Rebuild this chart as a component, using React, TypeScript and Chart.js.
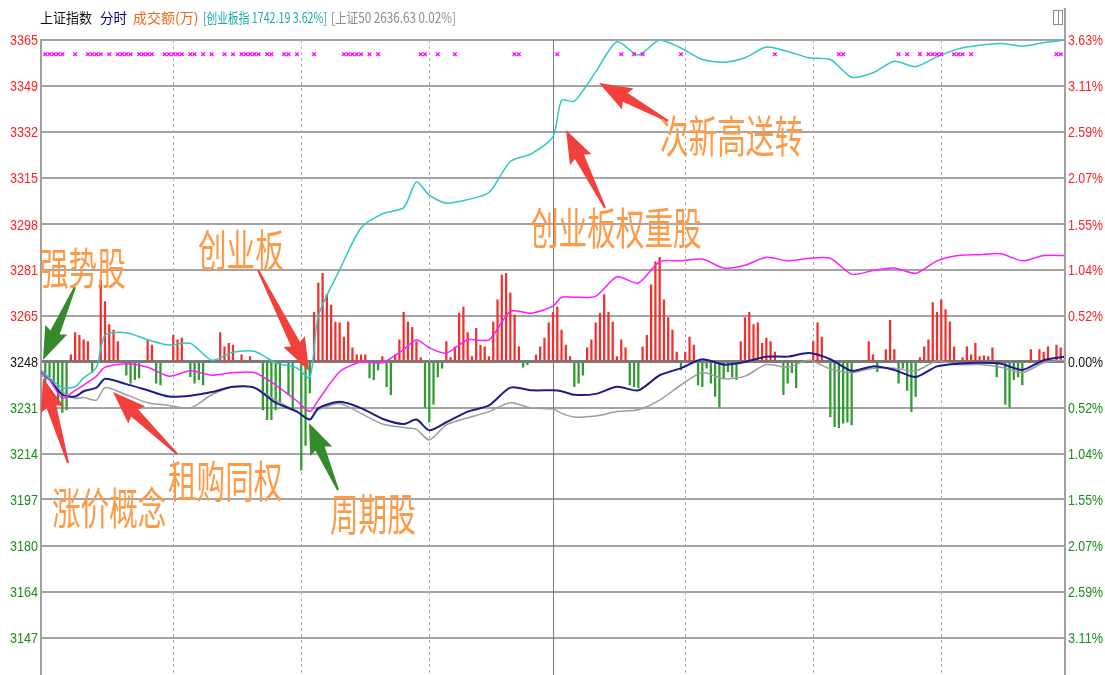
import React, { useEffect, useRef } from 'react';
import { Chart, registerables } from 'chart.js';

Chart.register(...registerables);

// ---- time axis (minutes from open, 0..240) ----
const TIMES = [0, 2, 5, 8, 10, 13, 15, 20, 25, 30, 35, 40, 45, 50, 55, 60, 63, 65, 70, 75, 80, 85, 88, 91, 95, 100, 105, 110, 115, 120, 122, 125, 130, 135, 140, 145, 150, 155, 160, 165, 170, 175, 180, 185, 190, 195, 200, 205, 210, 215, 220, 225, 230, 235, 240];

// ---- line series (percent change) ----
const CYAN_GEM = [-0.09, -0.18, -0.29, -0.28, -0.18, -0.06, 0.30, 0.33, 0.25, 0.19, 0.21, 0.02, 0.11, 0.12, -0.01, -0.07, -0.18, 0.52, 1.04, 1.51, 1.67, 1.74, 2.03, 1.88, 1.79, 1.83, 1.91, 2.26, 2.35, 2.54, 2.95, 2.94, 3.27, 3.61, 3.46, 3.63, 3.54, 3.41, 3.38, 3.43, 3.55, 3.50, 3.43, 3.41, 3.21, 3.26, 3.39, 3.33, 3.44, 3.53, 3.57, 3.59, 3.56, 3.60, 3.63];
const MAGENTA_LINE = [-0.11, -0.20, -0.41, -0.32, -0.26, -0.16, -0.06, -0.02, -0.06, -0.16, -0.10, -0.15, -0.12, -0.12, -0.26, -0.44, -0.56, -0.43, -0.11, 0.00, -0.01, 0.14, 0.25, 0.16, 0.10, 0.25, 0.25, 0.57, 0.55, 0.63, 0.73, 0.73, 0.74, 0.96, 0.89, 1.13, 1.14, 1.16, 1.06, 1.09, 1.18, 1.14, 1.17, 1.17, 0.99, 1.03, 1.06, 1.00, 1.14, 1.20, 1.21, 1.22, 1.14, 1.20, 1.20];
const NAVY_SH = [-0.11, -0.20, -0.37, -0.39, -0.33, -0.29, -0.19, -0.25, -0.32, -0.39, -0.38, -0.34, -0.28, -0.29, -0.46, -0.56, -0.65, -0.52, -0.45, -0.52, -0.64, -0.70, -0.65, -0.77, -0.68, -0.56, -0.49, -0.29, -0.32, -0.32, -0.33, -0.37, -0.36, -0.28, -0.32, -0.15, -0.07, 0.03, -0.03, 0.00, 0.06, 0.06, 0.10, 0.03, -0.10, -0.05, -0.09, -0.17, -0.05, -0.02, -0.01, -0.02, -0.09, 0.02, 0.06];
const GRAY_SZ50 = [-0.15, -0.20, -0.34, -0.41, -0.40, -0.43, -0.29, -0.37, -0.46, -0.49, -0.52, -0.37, -0.28, -0.29, -0.43, -0.56, -0.64, -0.54, -0.47, -0.58, -0.70, -0.74, -0.76, -0.88, -0.71, -0.63, -0.56, -0.46, -0.52, -0.53, -0.58, -0.62, -0.61, -0.56, -0.54, -0.43, -0.26, -0.12, -0.19, -0.16, -0.03, -0.06, 0.02, -0.08, -0.12, -0.07, -0.07, -0.10, 0.01, -0.03, -0.03, -0.06, -0.12, -0.01, 0.02];

// ---- up / down bars ----
const RED_MIN = [7, 8, 9, 10, 11, 14, 15, 16, 17, 18, 25, 26, 31, 32, 33, 42, 43, 44, 45, 47, 49, 64, 65, 66, 67, 68, 69, 70, 71, 72, 73, 74, 75, 76, 80, 83, 84, 85, 86, 87, 88, 89, 95, 96, 97, 98, 99, 100, 101, 102, 103, 104, 105, 106, 107, 108, 109, 110, 111, 112, 116, 117, 118, 119, 120, 121, 122, 123, 124, 128, 129, 130, 131, 132, 133, 134, 135, 136, 137, 141, 142, 143, 144, 145, 146, 147, 148, 149, 151, 152, 153, 164, 165, 166, 167, 168, 169, 170, 171, 172, 181, 182, 183, 194, 195, 198, 199, 200, 206, 207, 208, 209, 210, 211, 212, 213, 214, 216, 217, 218, 219, 220, 221, 222, 223, 232, 234, 235, 236, 238, 239, 240];
const RED_VAL = [0.08, 0.33, 0.30, 0.25, 0.23, 0.92, 0.68, 0.42, 0.36, 0.23, 0.25, 0.19, 0.30, 0.25, 0.27, 0.33, 0.17, 0.21, 0.19, 0.08, 0.06, 0.56, 0.89, 1.00, 0.76, 0.64, 0.45, 0.44, 0.28, 0.45, 0.16, 0.08, 0.08, 0.08, 0.06, 0.08, 0.25, 0.56, 0.45, 0.39, 0.23, 0.05, 0.23, 0.05, 0.17, 0.55, 0.62, 0.33, 0.06, 0.38, 0.19, 0.17, 0.06, 0.45, 0.70, 0.98, 1.00, 0.78, 0.53, 0.17, 0.08, 0.17, 0.27, 0.44, 0.56, 0.62, 0.36, 0.19, 0.06, 0.16, 0.25, 0.44, 0.55, 0.76, 0.56, 0.45, 0.06, 0.25, 0.16, 0.17, 0.30, 0.87, 1.13, 1.18, 0.70, 0.50, 0.36, 0.11, 0.11, 0.28, 0.19, 0.23, 0.50, 0.56, 0.42, 0.44, 0.21, 0.27, 0.23, 0.11, 0.23, 0.44, 0.28, 0.23, 0.08, 0.14, 0.47, 0.14, 0.05, 0.17, 0.25, 0.67, 0.56, 0.70, 0.59, 0.45, 0.17, 0.05, 0.17, 0.08, 0.21, 0.06, 0.07, 0.06, 0.16, 0.14, 0.14, 0.11, 0.17, 0.19, 0.16, 0.21];
const GREEN_MIN = [1, 2, 3, 4, 5, 6, 12, 20, 21, 22, 23, 27, 28, 35, 36, 37, 38, 52, 53, 54, 55, 56, 58, 59, 61, 62, 63, 77, 78, 79, 81, 82, 90, 91, 92, 93, 94, 113, 114, 125, 126, 127, 138, 139, 140, 150, 154, 155, 156, 157, 158, 159, 160, 161, 162, 163, 174, 175, 176, 177, 185, 186, 187, 188, 189, 190, 196, 201, 202, 203, 204, 205, 224, 226, 227, 228, 229, 230];
const GREEN_VAL = [-0.24, -0.17, -0.24, -0.48, -0.57, -0.54, -0.12, -0.15, -0.24, -0.20, -0.18, -0.24, -0.26, -0.17, -0.24, -0.20, -0.26, -0.54, -0.65, -0.65, -0.54, -0.45, -0.37, -0.54, -1.22, -0.94, -0.35, -0.18, -0.20, -0.09, -0.28, -0.37, -0.51, -0.68, -0.48, -0.17, -0.07, -0.06, -0.03, -0.28, -0.24, -0.15, -0.26, -0.28, -0.29, -0.09, -0.26, -0.28, -0.07, -0.24, -0.39, -0.51, -0.18, -0.11, -0.17, -0.20, -0.37, -0.24, -0.12, -0.29, -0.62, -0.73, -0.74, -0.69, -0.68, -0.71, -0.11, -0.24, -0.07, -0.32, -0.56, -0.39, -0.17, -0.48, -0.51, -0.20, -0.17, -0.26];

// ---- magenta "x" signal markers along the top ----
const MARK_MIN = [1, 2, 3, 4, 5, 8, 11, 12, 13, 14, 16, 18, 19, 20, 21, 23, 24, 25, 26, 29, 30, 31, 32, 33, 35, 36, 38, 40, 43, 45, 47, 48, 49, 50, 51, 53, 54, 57, 58, 60, 64, 71, 72, 73, 74, 75, 77, 79, 89, 90, 93, 97, 111, 112, 121, 136, 139, 141, 150, 172, 187, 188, 201, 203, 206, 208, 209, 210, 211, 214, 215, 216, 218, 238, 239];
const MARK_LEVEL = 3.47;

// ---- axis ticks ----
const PCT_TICKS = [3.63, 3.11, 2.59, 2.07, 1.55, 1.04, 0.52, 0, -0.52, -1.04, -1.55, -2.07, -2.59, -3.11];
const LEFT_LABELS = ['3365', '3349', '3332', '3315', '3298', '3281', '3265', '3248', '3231', '3214', '3197', '3180', '3164', '3147'];
const RIGHT_LABELS = ['3.63%', '3.11%', '2.59%', '2.07%', '1.55%', '1.04%', '0.52%', '0.00%', '0.52%', '1.04%', '1.55%', '2.07%', '2.59%', '3.11%'];
const VGRID_MIN = [31, 61, 91, 120, 151, 181, 211];
const MIDDAY_MIN = 120;
const Y_MIN = -3.47;
const Y_MAX = 3.63;

// ---- texts ----
const HEADER_TEXTS = ['上证指数', '分时', '成交额(万)', '[创业板指 1742.19 3.62%]', '[上证50 2636.63 0.02%]'];
const NOTE_TEXTS = ['强势股', '创业板', '涨价概念', '租购同权', '周期股', '创业板权重股', '次新高送转'];

const RED = '#f0302c';
const GREEN = '#2f9a2f';
const ARROW_RED = '#f2403c';
const ARROW_GREEN = '#358a2c';
const NOTE_COLOR = '#fd9a48';

function pts(xs: number[], ys: number[]) {
  return xs.map((x, i) => ({ x, y: ys[i] }));
}

function drawArrow(ctx: CanvasRenderingContext2D, x0: number, y0: number, x1: number, y1: number, color: string) {
  const dx = x1 - x0, dy = y1 - y0;
  const len = Math.hypot(dx, dy);
  const ux = dx / len, uy = dy / len;
  const nx = -uy, ny = ux;
  const hl = Math.min(30, len * 0.38), hw = 12, sw = 5, tw = 1;
  const bx = x1 - ux * hl, by = y1 - uy * hl;
  ctx.beginPath();
  ctx.moveTo(x0 + nx * tw, y0 + ny * tw);
  ctx.lineTo(bx + nx * sw, by + ny * sw);
  ctx.lineTo(bx + nx * hw - ux * 3, by + ny * hw - uy * 3);
  ctx.lineTo(x1, y1);
  ctx.lineTo(bx - nx * hw - ux * 3, by - ny * hw - uy * 3);
  ctx.lineTo(bx - nx * sw, by - ny * sw);
  ctx.lineTo(x0 - nx * tw, y0 - ny * tw);
  ctx.closePath();
  ctx.fillStyle = color;
  ctx.fill();
}

const decorPlugin = {
  id: 'decor',
  beforeDatasetsDraw(chart: any) {
    const { ctx, chartArea: a, scales } = chart;
    const xs = scales.x;
    ctx.save();
    VGRID_MIN.forEach((m) => {
      const px = Math.round(xs.getPixelForValue(m)) + 0.5;
      ctx.beginPath();
      if (m === MIDDAY_MIN) {
        ctx.setLineDash([]);
        ctx.strokeStyle = '#7c7c7c';
      } else {
        ctx.setLineDash([3, 3]);
        ctx.strokeStyle = '#b0b0b0';
      }
      ctx.lineWidth = 1;
      ctx.moveTo(px, a.top);
      ctx.lineTo(px, 675);
      ctx.stroke();
    });
    ctx.restore();
  },
  afterDatasetsDraw(chart: any) {
    const { ctx, chartArea: a, scales } = chart;
    const ys = scales.y;
    ctx.save();
    // tick labels on both sides
    ctx.font = '15px "Liberation Sans", Arial, sans-serif';
    ctx.textBaseline = 'middle';
    ys.ticks.forEach((t: any, i: number) => {
      const py = ys.getPixelForValue(t.value);
      const col = i < 7 ? '#ff2020' : i === 7 ? '#111111' : '#1a8c1a';
      ctx.fillStyle = col;
      ctx.textAlign = 'right';
      ctx.fillText(LEFT_LABELS[i], a.left - 3, py + 1, 28);
      ctx.textAlign = 'left';
      ctx.fillText(RIGHT_LABELS[i], a.right + 3, py + 1, 35);
    });
    // side borders extend to page edges
    ctx.strokeStyle = '#a0a0a0';
    ctx.lineWidth = 2;
    ctx.beginPath();
    ctx.moveTo(a.right, 8);
    ctx.lineTo(a.right, 675);
    ctx.moveTo(a.left, a.bottom);
    ctx.lineTo(a.left, 675);
    ctx.stroke();
    // small window icon
    ctx.lineWidth = 1;
    ctx.strokeStyle = '#8a8a8a';
    ctx.strokeRect(1053.5, 10.5, 9, 14);
    ctx.beginPath();
    ctx.moveTo(1058.5, 10.5);
    ctx.lineTo(1058.5, 24.5);
    ctx.stroke();

    // header
    ctx.font = '14px "Noto Sans CJK SC", sans-serif';
    ctx.textAlign = 'left';
    ctx.textBaseline = 'middle';
    const hx = [40, 100, 133, 203, 331];
    const hw = [52, 27, 68, 124, 125];
    const hc = ['#111111', '#000080', '#f0641e', '#18aaaa', '#8c8c8c'];
    HEADER_TEXTS.forEach((t, i) => {
      ctx.fillStyle = hc[i];
      ctx.fillText(t, hx[i], 18, hw[i]);
    });

    // arrows
    drawArrow(ctx, 75, 287, 43, 360, ARROW_GREEN);
    drawArrow(ctx, 258, 270, 309, 371, ARROW_RED);
    drawArrow(ctx, 68, 463, 43, 378, ARROW_RED);
    drawArrow(ctx, 177, 454, 113, 392, ARROW_RED);
    drawArrow(ctx, 338, 490, 309, 423, ARROW_GREEN);
    drawArrow(ctx, 605, 208, 566, 130, ARROW_RED);
    drawArrow(ctx, 668, 121, 599, 83, ARROW_RED);

    // annotation texts
    const nx = [40, 198, 52, 168, 330, 530, 660];
    const ny = [268, 250, 508, 481, 514, 228, 136];
    ctx.fillStyle = NOTE_COLOR;
    ctx.font = '44px "Noto Sans CJK SC", sans-serif';
    ctx.textBaseline = 'middle';
    ctx.textAlign = 'left';
    NOTE_TEXTS.forEach((t, i) => {
      ctx.save();
      ctx.translate(nx[i], ny[i]);
      ctx.scale(0.65, 1);
      ctx.fillText(t, 0, 0);
      ctx.restore();
    });
    ctx.restore();
  },
};

export default function App() {
  const ref = useRef<HTMLCanvasElement | null>(null);
  useEffect(() => {
    if (!ref.current) return;
    const chart = new Chart(ref.current, {
      type: 'line',
      data: {
        datasets: [
          {
            type: 'scatter',
            label: 'signals',
            data: MARK_MIN.map((m) => ({ x: m, y: MARK_LEVEL })),
            pointStyle: 'crossRot',
            pointRadius: 2.6,
            pointBorderWidth: 1.3,
            borderColor: '#ff00ff',
            backgroundColor: '#ff00ff',
            order: 1,
          } as any,
          {
            label: '创业板指',
            data: pts(TIMES, CYAN_GEM),
            borderColor: '#2ec6c6',
            borderWidth: 1.5,
            pointRadius: 0,
            tension: 0.25,
            order: 2,
          },
          {
            label: '领先',
            data: pts(TIMES, MAGENTA_LINE),
            borderColor: '#ff1cff',
            borderWidth: 1.5,
            pointRadius: 0,
            tension: 0.25,
            order: 3,
          },
          {
            label: '上证指数',
            data: pts(TIMES, NAVY_SH),
            borderColor: '#1c1c8c',
            borderWidth: 2,
            pointRadius: 0,
            tension: 0.25,
            order: 4,
          },
          {
            label: '上证50',
            data: pts(TIMES, GRAY_SZ50),
            borderColor: '#9c9c9c',
            borderWidth: 1.5,
            pointRadius: 0,
            tension: 0.25,
            order: 5,
          },
          {
            type: 'bar',
            label: 'up',
            data: pts(RED_MIN, RED_VAL),
            backgroundColor: RED,
            barThickness: 1.6,
            grouped: false,
            order: 10,
          } as any,
          {
            type: 'bar',
            label: 'down',
            data: pts(GREEN_MIN, GREEN_VAL),
            backgroundColor: GREEN,
            barThickness: 1.6,
            grouped: false,
            order: 11,
          } as any,
        ],
      },
      options: {
        responsive: false,
        animation: false,
        events: [],
        layout: { padding: { top: 40, left: 0, right: 0, bottom: 0 } },
        plugins: { legend: { display: false }, tooltip: { enabled: false } },
        scales: {
          x: { type: 'linear', min: 0, max: 240, offset: false, display: false },
          y: {
            type: 'linear',
            position: 'left',
            min: Y_MIN,
            max: Y_MAX,
            afterBuildTicks: (s: any) => {
              s.ticks = PCT_TICKS.map((v) => ({ value: v }));
            },
            afterFit: (s: any) => {
              s.width = 41;
            },
            ticks: { display: false },
            grid: {
              drawTicks: false,
              color: (c: any) => (c.tick && c.tick.value === 0 ? '#7a7a7a' : '#a4a4a4'),
              lineWidth: (c: any) => (c.tick && c.tick.value === 0 ? 3 : 2),
            },
            border: { display: true, color: '#a0a0a0', width: 2 },
          },
          y1: {
            type: 'linear',
            position: 'right',
            min: Y_MIN,
            max: Y_MAX,
            afterFit: (s: any) => {
              s.width = 40;
            },
            ticks: { display: false },
            grid: { display: false, drawTicks: false },
            border: { display: true, color: '#a0a0a0', width: 2 },
          },
        },
      } as any,
      plugins: [decorPlugin],
    });
    return () => chart.destroy();
  }, []);
  return (
    <div style={{ position: 'fixed', left: 0, top: 0, width: 1105, height: 675, background: '#ffffff' }}>
      <canvas ref={ref} width={1105} height={675} style={{ display: 'block' }} />
    </div>
  );
}
